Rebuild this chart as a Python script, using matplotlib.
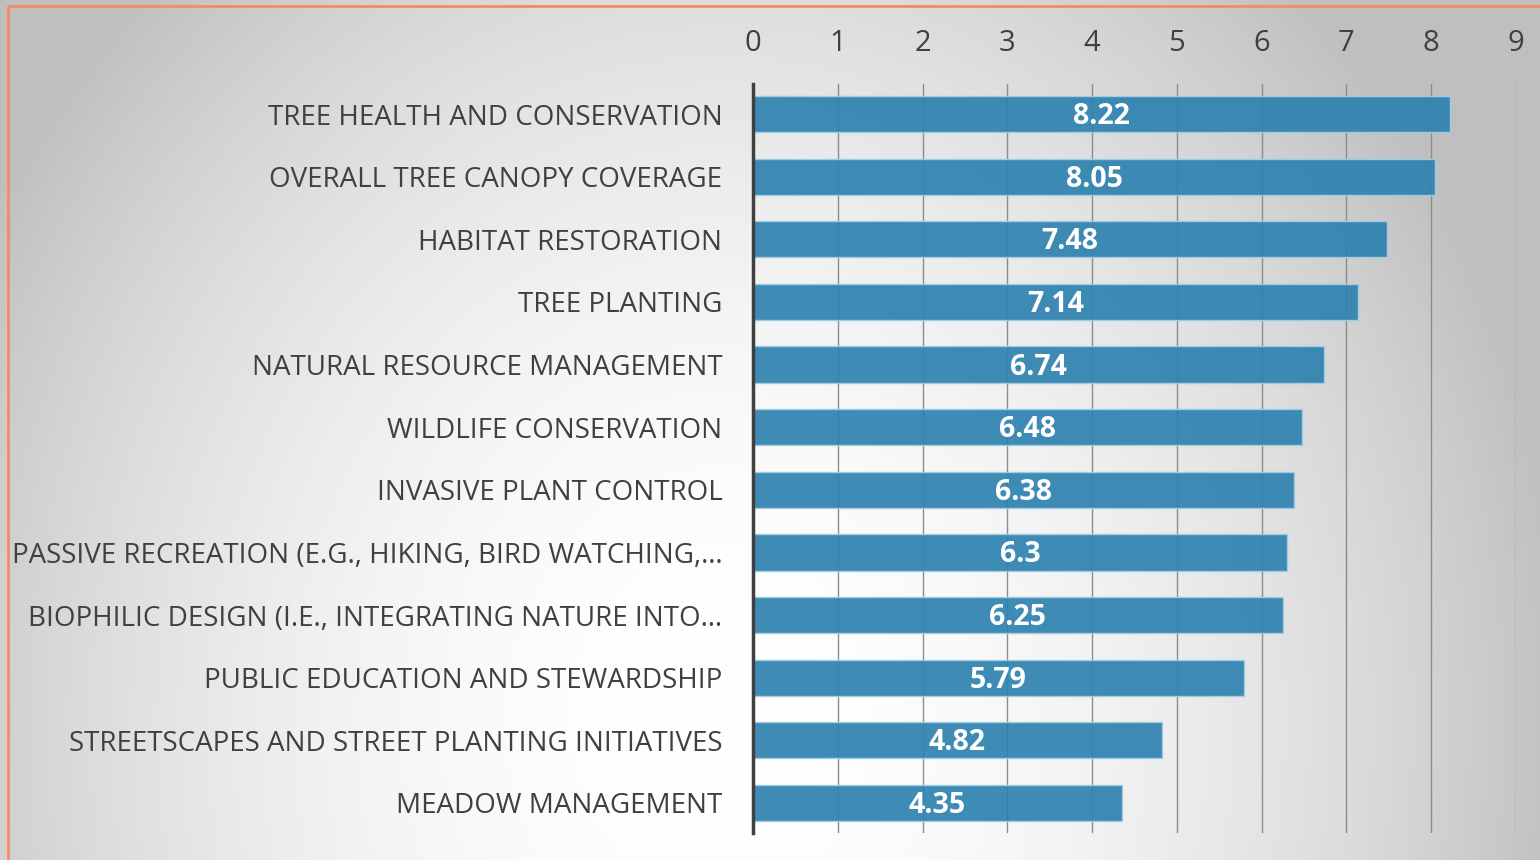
import numpy as np
import matplotlib
matplotlib.use("Agg")
from matplotlib import pyplot as plt
from matplotlib.patches import Rectangle

categories = [
    "TREE HEALTH AND CONSERVATION",
    "OVERALL TREE CANOPY COVERAGE",
    "HABITAT RESTORATION",
    "TREE PLANTING",
    "NATURAL RESOURCE MANAGEMENT",
    "WILDLIFE CONSERVATION",
    "INVASIVE PLANT CONTROL",
    "PASSIVE RECREATION (E.G., HIKING, BIRD WATCHING,\u2026",
    "BIOPHILIC DESIGN (I.E., INTEGRATING NATURE INTO\u2026",
    "PUBLIC EDUCATION AND STEWARDSHIP",
    "STREETSCAPES AND STREET PLANTING INITIATIVES",
    "MEADOW MANAGEMENT",
]
scores = [8.22, 8.05, 7.48, 7.14, 6.74, 6.48, 6.38, 6.3, 6.25, 5.79, 4.82, 4.35]
xticks = list(range(0, 10))

W, H = 1540, 860
fig = plt.figure(figsize=(W / 100, H / 100), dpi=100)

# radial grey background, lightest low in the middle
yy, xx = np.mgrid[0:H, 0:W]
r = np.sqrt(((xx - 720) / 850.0) ** 2 + ((yy - 720) / 1000.0) ** 2)
shade = 1.0 - 0.25 * np.clip(r, 0, 1.0) ** 2
bg = fig.add_axes([0, 0, 1, 1])
bg.imshow(np.dstack([shade] * 3), aspect="auto", extent=[0, W, H, 0])
bg.set_xlim(0, W)
bg.set_ylim(H, 0)
bg.axis("off")
bg.add_patch(Rectangle((8, 6), W + 20, H + 20, fill=False, edgecolor="#f58b62", lw=2))

ax = fig.add_axes([753 / W, (H - 833) / H, (1516 - 753) / W, (833 - 84) / H])
ax.patch.set_alpha(0)
y = np.arange(len(categories))
ax.barh(y, scores, height=0.58, color="#2e82b0", alpha=0.92,
        edgecolor="#a6cde2", lw=1, zorder=3)
for yi, v in zip(y, scores):
    ax.text(v / 2, yi + 0.04, f"{v:g}", ha="center", va="center", color="white",
            fontsize=20.5, fontweight="bold", family="Open Sans", zorder=4)

ax.set_xlim(0, 9)
ax.set_ylim(len(categories) - 0.52, -0.48)
ax.set_xticks(xticks)
ax.set_yticks(y)
ax.set_yticklabels(categories)
ax.xaxis.tick_top()
ax.tick_params(axis="x", length=0, pad=19, labelsize=21, labelcolor="#404040")
ax.tick_params(axis="y", length=0, pad=22, labelsize=20, labelcolor="#404040")
for lab in ax.get_xticklabels() + ax.get_yticklabels():
    lab.set_family("Open Sans")
ax.grid(axis="x", color="#8c8c8c", lw=1, zorder=0)
for s in ["top", "right", "bottom"]:
    ax.spines[s].set_visible(False)
ax.spines["left"].set_color("#404040")
ax.spines["left"].set_linewidth(2.5)
ax.spines["left"].set_zorder(5)

fig.savefig("out.png", dpi=100)
